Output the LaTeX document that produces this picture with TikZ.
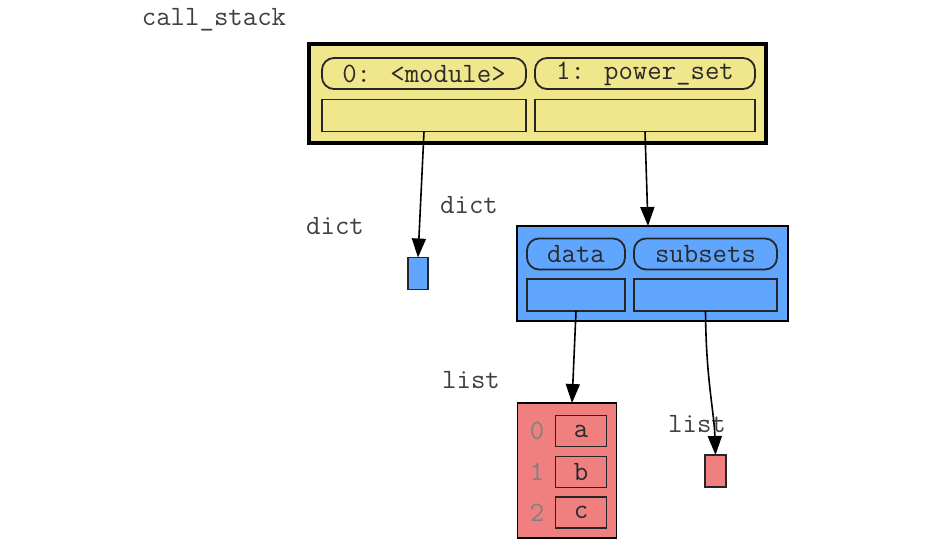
\documentclass[tikz,border=0pt]{standalone}
\usetikzlibrary{arrows.meta}
\definecolor{frameyellow}{HTML}{F0E68C}
\definecolor{dictblue}{HTML}{60A6FF}
\definecolor{listred}{HTML}{F08080}
\definecolor{txt}{HTML}{2A2A2A}
\begin{document}
\begin{tikzpicture}[x=1pt,y=-1pt,
  every node/.style={inner sep=0pt, outer sep=0pt, font=\fontsize{28}{30}\selectfont\ttfamily, text=txt},
  keybox/.style={draw=black!85, line width=1.8pt, rounded corners=12pt, minimum height=31pt},
  cellbox/.style={draw=black!85, line width=1.8pt, minimum height=32pt},
  tiny/.style={draw=black!85, line width=1.6pt, minimum width=20pt, minimum height=32pt},
  idx/.style={text=black!50},
  lbl/.style={text=black!75},
  ptr/.style={draw=black, line width=1.6pt, -{Triangle[length=19pt,width=14pt]}}
]
\useasboundingbox (0,0) rectangle (941,553);
% call stack frame
\node[lbl] (cslabel) at (214,20) {call\_stack};
\node[draw=black, line width=4pt, fill=frameyellow, minimum width=457pt, minimum height=99pt] (cs) at (537.5,93.5) {};
\node[keybox, fill=frameyellow, minimum width=204pt] (k0) at (424,73.5) {0: <module>};
\node[keybox, fill=frameyellow, minimum width=220pt] (k1) at (645,73.5) {1: power\_set};
\node[cellbox, fill=frameyellow, minimum width=204pt] (v0) at (424,115.5) {};
\node[cellbox, fill=frameyellow, minimum width=220pt] (v1) at (645,115.5) {};
% empty dict
\node[lbl] (dlabel1) at (335,226) {dict};
\node[tiny, fill=dictblue, minimum width=20pt] (dict1) at (418,273.5) {};
% data dict
\node[lbl] (dlabel2) at (469,205) {dict};
\node[draw=black, line width=1.3pt, fill=dictblue, minimum width=271pt, minimum height=95pt] (dict2) at (652.5,273.5) {};
\node[keybox, fill=dictblue, minimum width=98pt] (kd) at (576,254) {data};
\node[keybox, fill=dictblue, minimum width=143pt] (ks) at (705.5,254) {subsets};
\node[cellbox, fill=dictblue, minimum width=98pt] (vd) at (576,295) {};
\node[cellbox, fill=dictblue, minimum width=143pt] (vs) at (705.5,295) {};
% list abc
\node[lbl] (llabel1) at (471,380) {list};
\node[draw=black, line width=1.3pt, fill=listred, minimum width=99pt, minimum height=135pt] (list1) at (567,470.5) {};
\node[idx] (i0) at (537,431) {0};
\node[idx] (i1) at (537,472) {1};
\node[idx] (i2) at (537,512.5) {2};
\node[cellbox, fill=listred, minimum width=51pt, minimum height=31pt] (ca) at (581,431) {a};
\node[cellbox, fill=listred, minimum width=51pt, minimum height=31pt] (cb) at (581,472) {b};
\node[cellbox, fill=listred, minimum width=51pt, minimum height=31pt] (cc) at (581,512.5) {c};
% empty list
\node[tiny, fill=listred, minimum width=21pt] (list2) at (715.5,471) {};
\node[lbl] (llabel2) at (697,424) {list};
% pointers
\draw[ptr] (v0.south) -- (dict1.north);
\draw[ptr] (v1.south) -- ([xshift=-4.5pt]dict2.north);
\draw[ptr] (vd.south) -- ([xshift=5pt]list1.north);
\draw[ptr] (vs.south) .. controls (706,380) and (714,410) .. (list2.north);
\end{tikzpicture}
\end{document}
